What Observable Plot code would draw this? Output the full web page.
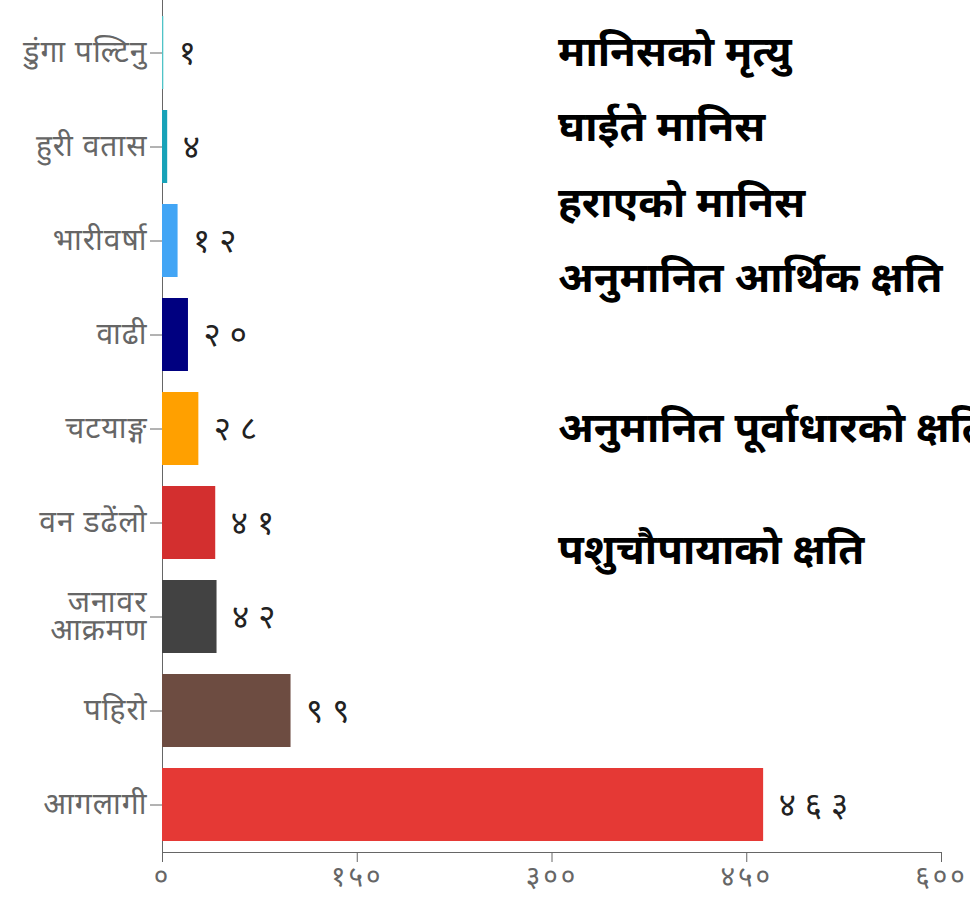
<!DOCTYPE html>
<html>
<head>
<meta charset="utf-8">
<script src="https://cdn.jsdelivr.net/npm/d3@7"></script>
<script src="https://cdn.jsdelivr.net/npm/@observablehq/plot@0.6"></script>
<style>
  html, body { margin: 0; padding: 0; background: #fff; }
  #wrap { position: relative; width: 970px; height: 899px; overflow: hidden; }
  #chart svg { font-family: "Noto Sans Devanagari", "Lohit Devanagari", "Noto Sans", sans-serif; }
  #chart g[aria-label="x-axis tick label"] { font-size: 28px; letter-spacing: 3px; }
  #chart .ylab text { letter-spacing: 1px; }
  #chart .vals text { letter-spacing: 9px; font-size: 33px; }
  .info { position: absolute; left: 558px; font-family: "Noto Sans Devanagari", "Lohit Devanagari", "Noto Sans", sans-serif;
          font-weight: bold; font-size: 42px; color: #000; white-space: nowrap; line-height: 1; }
</style>
</head>
<body>
<div id="wrap">
  <div id="chart"></div>
  <div class="info" style="top:-42px">कुल घटना</div>
  <div class="info" style="top:35px">मानिसको मृत्यु</div>
  <div class="info" style="top:110px">घाईते मानिस</div>
  <div class="info" style="top:186px">हराएको मानिस</div>
  <div class="info" style="top:261px">अनुमानित आर्थिक क्षति</div>
  <div class="info" style="top:411px">अनुमानित पूर्वाधारको क्षति</div>
  <div class="info" style="top:533px">पशुचौपायाको क्षति</div>
</div>
<script>
const categories = ["डुंगा पल्टिनु", "हुरी वतास", "भारीवर्षा", "वाढी", "चटयाङ्ग", "वन डढेंलो", "जनावर\nआक्रमण", "पहिरो", "आगलागी"];
const values = [1, 4, 12, 20, 28, 41, 42, 99, 463];
const colors = ["#4fc3c7", "#17a2b8", "#42a5f5", "#000080", "#ffa000", "#d32f2f", "#424242", "#6d4c41", "#e53935"];
const xTicks = [0, 150, 300, 450, 600];

const devDigits = "०१२३४५६७८९";
const toDev = n => String(n).replace(/\d/g, d => devDigits[+d]);

const data = categories.map((c, i) => ({cat: c, value: values[i]}));

const chart = Plot.plot({
  width: 970,
  height: 899,
  marginLeft: 162,
  marginRight: 29,
  marginTop: 0,
  marginBottom: 47,
  x: {domain: [0, 600], ticks: xTicks, tickFormat: toDev, tickSize: 10, tickPadding: 4, line: true, label: null},
  y: {domain: categories, range: [4, 852], paddingInner: 0.227, paddingOuter: 0.095, label: null},
  color: {domain: categories, range: colors},
  style: {color: "#666", background: "#fff"},
  marks: [
    Plot.ruleX([0], {stroke: "#666"}),
    Plot.barX(data, {x: "value", y: "cat", fill: "cat"}),
    Plot.axisY({tickSize: 12, tickPadding: 3, fontSize: 30, lineHeight: 0.93, className: "ylab", label: null}),
    Plot.text(data, {x: "value", y: "cat", text: d => toDev(d.value), textAnchor: "start", dx: 15, fontSize: 33, fill: "#222", className: "vals"})
  ]
});
document.getElementById("chart").appendChild(chart);
</script>
</body>
</html>
